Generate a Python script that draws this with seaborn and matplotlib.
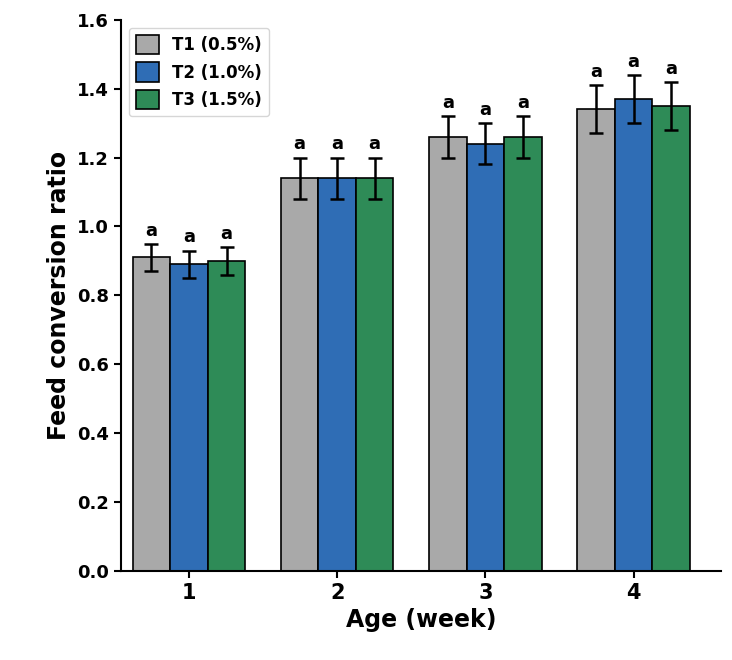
import numpy as np
import pandas as pd
import seaborn as sns
import matplotlib.pyplot as plt

weeks = ['1', '2', '3', '4']
groups = ['T1 (0.5%)', 'T2 (1.0%)', 'T3 (1.5%)']
t1 = [0.91, 1.14, 1.26, 1.34]
t2 = [0.89, 1.14, 1.24, 1.37]
t3 = [0.90, 1.14, 1.26, 1.35]
t1_err = [0.04, 0.06, 0.06, 0.07]
t2_err = [0.04, 0.06, 0.06, 0.07]
t3_err = [0.04, 0.06, 0.06, 0.07]
letters = ['a'] * 12

df = pd.DataFrame({
    'week': weeks * 3,
    'group': np.repeat(groups, 4),
    'fcr': t1 + t2 + t3,
    'err': t1_err + t2_err + t3_err,
})

sns.set_style('ticks')
plt.rcParams['font.family'] = ['DejaVu Sans']
plt.rcParams['font.weight'] = 'bold'
for k in ['text.color', 'axes.labelcolor', 'xtick.color', 'ytick.color', 'axes.edgecolor']:
    plt.rcParams[k] = 'black'

fig, ax = plt.subplots(figsize=(7.32, 6.6), dpi=100)
palette = ['#A9A9A9', '#2F6DB5', '#2E8B57']
sns.barplot(data=df, x='week', y='fcr', hue='group', palette=palette,
            errorbar=None, edgecolor='black', linewidth=1.2, width=0.76,
            saturation=1, ax=ax)

# error bars and letters, matched to bars by hue order
bars = [p for c in ax.containers for p in c]
for p, (_, row), lab in zip(bars, df.iterrows(), letters):
    x = p.get_x() + p.get_width() / 2
    y = p.get_height()
    ax.errorbar(x, y, yerr=row['err'], color='black', capsize=5, elinewidth=1.8, capthick=1.8)
    ax.text(x, y + row['err'] + 0.012, lab, ha='center', va='bottom', fontsize=13, fontweight='bold')

ax.set_xlim(-0.46, 3.59)
ax.set_ylim(0, 1.6)
ax.set_yticks(np.arange(0, 1.61, 0.2))
ax.set_xlabel('Age (week)', fontsize=17, fontweight='bold')
ax.set_ylabel('Feed conversion ratio', fontsize=17, fontweight='bold')
ax.tick_params(axis='x', labelsize=15, width=1.5, length=5)
ax.tick_params(axis='y', labelsize=13, width=1.5, length=5)
for s in ['left', 'bottom']:
    ax.spines[s].set_linewidth(1.5)
sns.despine(ax=ax)
leg = ax.legend(loc='upper left', fontsize=12, frameon=True, handlelength=1.4, handleheight=1.4)
for t in leg.get_texts():
    t.set_fontweight('bold')

plt.subplots_adjust(left=0.165, right=0.985, top=0.97, bottom=0.135)
plt.savefig('out.png', dpi=100)
